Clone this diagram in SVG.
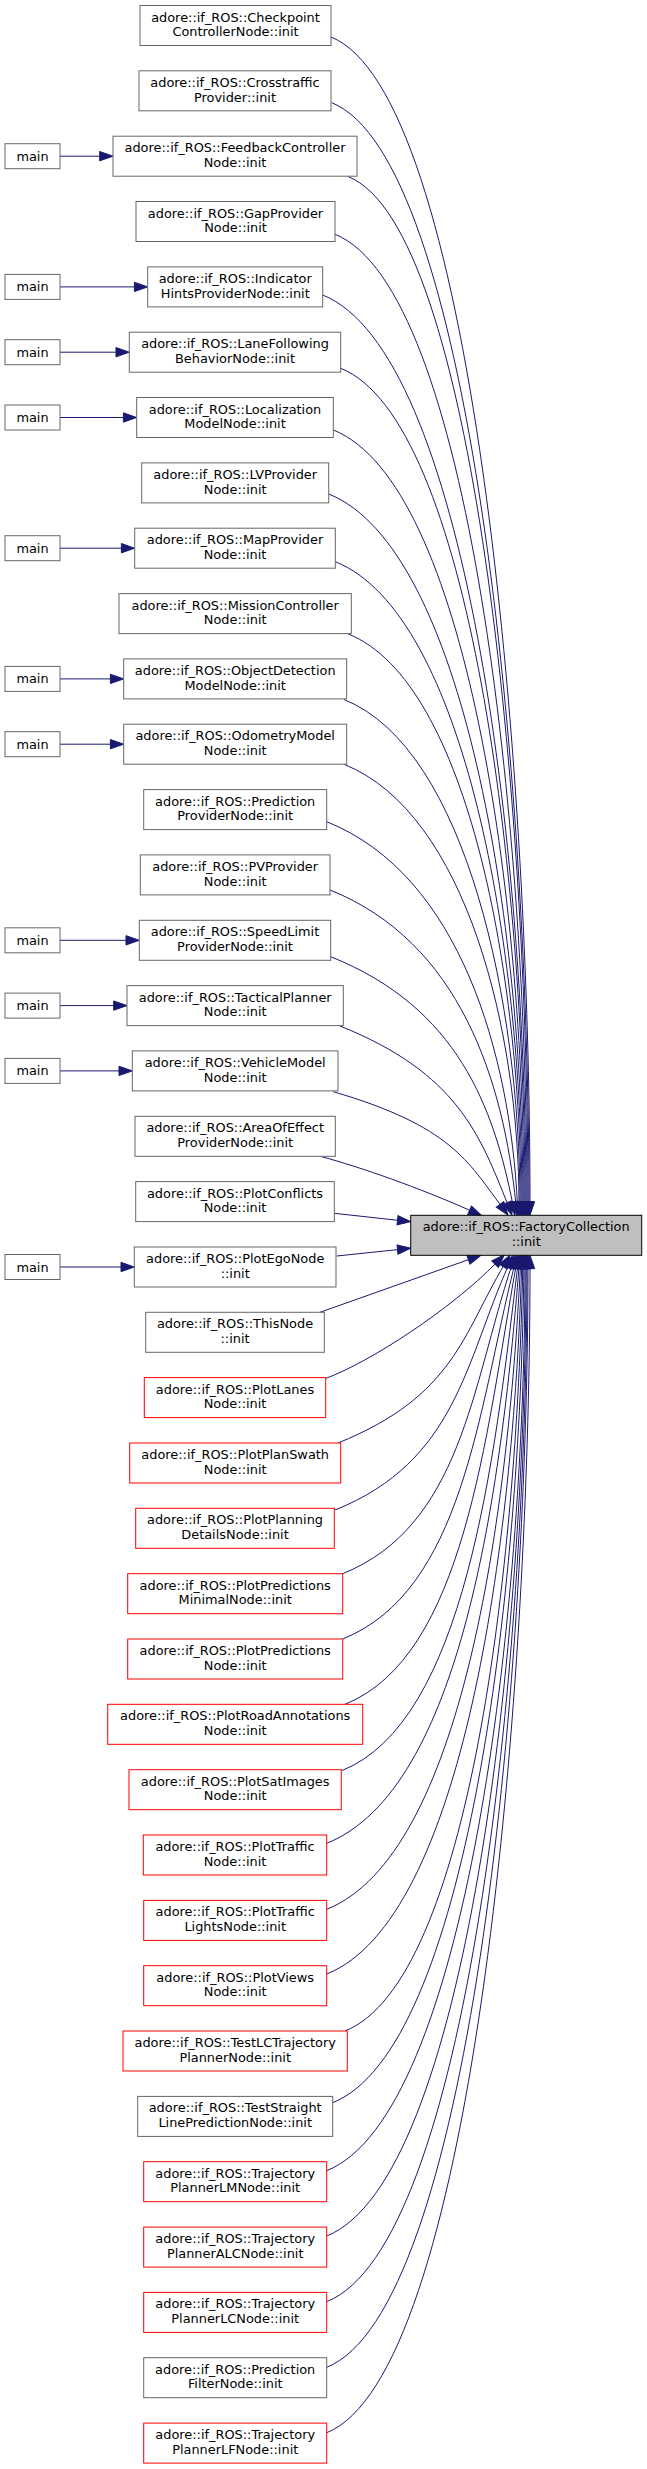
<svg xmlns="http://www.w3.org/2000/svg" width="647" height="2469" viewBox="0 0 647 2469">
<defs>
<style>
.n rect{fill:#ffffff;stroke:#666666;stroke-width:1}
.r rect{fill:#ffffff;stroke:#ff0000;stroke-width:1}
.t rect{fill:#bfbfbf;stroke:#000000;stroke-width:1}
text{font-family:"DejaVu Sans","Liberation Sans",sans-serif;font-size:12.9px;fill:#000000;text-anchor:middle}
.e path{fill:none;stroke:#191970;stroke-width:1;marker-end:url(#ah)}
</style>
<marker id="ah" markerUnits="userSpaceOnUse" markerWidth="14" markerHeight="10" refX="2.3" refY="0" orient="auto" viewBox="0 -5 14 10" overflow="visible">
<path d="M0,-4.67 L13.3,0 L0,4.67 Z" fill="#191970" stroke="#191970" stroke-width="1"/>
</marker>
</defs>
<rect width="647" height="2469" fill="#ffffff"/>
<g id="edges" class="e">
<path d="M331,37 C470.3,92.7 530,749 530,1204"/>
<path d="M331.7,102.7 C469.8,157.9 529,774.5 529,1204"/>
<path d="M348.3,176.7 C474.1,227 528,803.4 528,1204"/>
<path d="M335,234.3 C469.4,288.1 527,825.8 527,1204"/>
<path d="M322.7,295 C465,351.9 526,849.5 526,1204"/>
<path d="M340.7,368.3 C469.7,419.9 525,878.1 525,1204"/>
<path d="M333.3,430 C466.8,483.4 524,902.1 524,1204"/>
<path d="M328.7,494 C464.7,548.4 523,927.1 523,1204"/>
<path d="M335.3,561.7 C466,614 522,953.5 522,1204"/>
<path d="M348.3,634 C469.2,682.4 521,981.7 521,1204"/>
<path d="M344,699.5 C467.2,748.8 520,1007.2 520,1204"/>
<path d="M344,764.3 C466.5,813.3 519,1032.5 519,1204"/>
<path d="M326.7,821.7 C460.2,875.1 510,1054.9 517.45,1204"/>
<path d="M330,890 C460.1,942 503.6,1081.5 515.9,1204"/>
<path d="M330.7,956.7 C458.2,1007.7 493.5,1107.7 512.8,1204.2"/>
<path d="M340,1026 C457.5,1073 480,1135.1 507.9,1204.8"/>
<path d="M333.3,1091.7 C451,1126.1 467.9,1161.5 501.4,1206.2"/>
<path d="M321.7,1156.7 C360,1167 420,1188 471.7,1211.2"/>
<path d="M334.3,1213.3 L399.8,1220.5"/>
<path d="M336.7,1256 L399.8,1249.4"/>
<path d="M320,1312.3 L470.6,1258.9"/>
<path d="M326,1378.3 C370,1362 450,1310 496.7,1262.5"/>
<path d="M338,1443 C454.4,1395.9 462.7,1334 504.3,1264.7"/>
<path d="M335,1510 C456.5,1461.4 465.6,1360.7 508.5,1265.3"/>
<path d="M342.7,1573.7 C460.9,1526 472,1385.7 511.6,1265.75"/>
<path d="M342.7,1639 C462.8,1590.7 478,1411.4 514.3,1266"/>
<path d="M345,1704.3 C464.7,1656.1 485.3,1436.9 516.05,1266.1"/>
<path d="M341.7,1770.7 C464.9,1721.4 494.1,1463 517.7,1266.2"/>
<path d="M326.7,1843.3 C461.4,1789.4 501.1,1491.3 519.1,1266.3"/>
<path d="M326.7,1909.3 C462.3,1855.1 507.9,1517.1 520.45,1266.3"/>
<path d="M326.7,1974 C463.2,1919.4 513.4,1542.3 521.7,1266.3"/>
<path d="M345,2031 C469.5,1981.2 516.8,1564.5 522.8,1266.3"/>
<path d="M332.7,2102.7 C466.5,2049.2 520.6,1592.5 523.9,1266.3"/>
<path d="M326.7,2170.7 C465.5,2115.2 525,1619 525,1266.3"/>
<path d="M326.7,2236 C466.2,2180.2 526,1644.5 526,1266.3"/>
<path d="M326.7,2301.7 C466.9,2245.6 527,1670.1 527,1266.3"/>
<path d="M326.7,2367.3 C467.6,2310.9 528,1695.7 528,1266.3"/>
<path d="M326.7,2432.7 C469,2375.8 530,1721.2 530,1266.3"/>
<path d="M60,156.2 L102,156.2"/>
<path d="M60,286.9 L136.7,286.9"/>
<path d="M60,352.2 L118.3,352.2"/>
<path d="M60,417.5 L125.7,417.5"/>
<path d="M60,548.2 L123.7,548.2"/>
<path d="M60,678.9 L112.7,678.9"/>
<path d="M60,744.2 L112.7,744.2"/>
<path d="M60,940.3 L128.3,940.3"/>
<path d="M60,1005.6 L116,1005.6"/>
<path d="M60,1070.9 L121.3,1070.9"/>
<path d="M60,1267 L123.3,1267"/>
</g>
<g id="target" class="t"><rect x="410.7" y="1215.3" width="231" height="40"/><text x="526.2" y="1231.3">adore::if_ROS::FactoryCollection</text><text x="526.2" y="1246">::init</text></g>
<g id="node1" class="n"><rect x="140" y="5.5" width="191" height="40"/><text x="235.5" y="21.5">adore::if_ROS::Checkpoint</text><text x="235.5" y="36.2">ControllerNode::init</text></g>
<g id="node2" class="n"><rect x="139" y="70.8" width="192" height="40"/><text x="235" y="86.8">adore::if_ROS::Crosstraffic</text><text x="235" y="101.5">Provider::init</text></g>
<g id="node3" class="n"><rect x="113" y="136.2" width="244" height="40"/><text x="235" y="152.2">adore::if_ROS::FeedbackController</text><text x="235" y="166.9">Node::init</text></g>
<g id="node4" class="n"><rect x="136" y="201.5" width="199" height="40"/><text x="235.5" y="217.5">adore::if_ROS::GapProvider</text><text x="235.5" y="232.2">Node::init</text></g>
<g id="node5" class="n"><rect x="147.7" y="266.9" width="175" height="40"/><text x="235.2" y="282.9">adore::if_ROS::Indicator</text><text x="235.2" y="297.6">HintsProviderNode::init</text></g>
<g id="node6" class="n"><rect x="129.3" y="332.2" width="211.4" height="40"/><text x="235" y="348.2">adore::if_ROS::LaneFollowing</text><text x="235" y="362.9">BehaviorNode::init</text></g>
<g id="node7" class="n"><rect x="136.7" y="397.5" width="196.6" height="40"/><text x="235" y="413.5">adore::if_ROS::Localization</text><text x="235" y="428.2">ModelNode::init</text></g>
<g id="node8" class="n"><rect x="141.7" y="462.9" width="187" height="40"/><text x="235.2" y="478.9">adore::if_ROS::LVProvider</text><text x="235.2" y="493.6">Node::init</text></g>
<g id="node9" class="n"><rect x="134.7" y="528.2" width="200.6" height="40"/><text x="235" y="544.2">adore::if_ROS::MapProvider</text><text x="235" y="558.9">Node::init</text></g>
<g id="node10" class="n"><rect x="119" y="593.6" width="232.3" height="40"/><text x="235.2" y="609.6">adore::if_ROS::MissionController</text><text x="235.2" y="624.3">Node::init</text></g>
<g id="node11" class="n"><rect x="123.7" y="658.9" width="223" height="40"/><text x="235.2" y="674.9">adore::if_ROS::ObjectDetection</text><text x="235.2" y="689.6">ModelNode::init</text></g>
<g id="node12" class="n"><rect x="123.7" y="724.2" width="223" height="40"/><text x="235.2" y="740.2">adore::if_ROS::OdometryModel</text><text x="235.2" y="754.9">Node::init</text></g>
<g id="node13" class="n"><rect x="143.7" y="789.6" width="183" height="40"/><text x="235.2" y="805.6">adore::if_ROS::Prediction</text><text x="235.2" y="820.3">ProviderNode::init</text></g>
<g id="node14" class="n"><rect x="140.3" y="854.9" width="189.7" height="40"/><text x="235.2" y="870.9">adore::if_ROS::PVProvider</text><text x="235.2" y="885.6">Node::init</text></g>
<g id="node15" class="n"><rect x="139.3" y="920.3" width="191.4" height="40"/><text x="235" y="936.3">adore::if_ROS::SpeedLimit</text><text x="235" y="951">ProviderNode::init</text></g>
<g id="node16" class="n"><rect x="127" y="985.6" width="216.3" height="40"/><text x="235.2" y="1001.6">adore::if_ROS::TacticalPlanner</text><text x="235.2" y="1016.3">Node::init</text></g>
<g id="node17" class="n"><rect x="132.3" y="1050.9" width="205.7" height="40"/><text x="235.2" y="1066.9">adore::if_ROS::VehicleModel</text><text x="235.2" y="1081.6">Node::init</text></g>
<g id="node18" class="n"><rect x="135" y="1116.3" width="200.3" height="40"/><text x="235.2" y="1132.3">adore::if_ROS::AreaOfEffect</text><text x="235.2" y="1147">ProviderNode::init</text></g>
<g id="node19" class="n"><rect x="135.7" y="1181.6" width="198.6" height="40"/><text x="235" y="1197.6">adore::if_ROS::PlotConflicts</text><text x="235" y="1212.3">Node::init</text></g>
<g id="node20" class="n"><rect x="134.3" y="1247" width="201.7" height="40"/><text x="235.2" y="1263">adore::if_ROS::PlotEgoNode</text><text x="235.2" y="1277.7">::init</text></g>
<g id="node21" class="n"><rect x="145.7" y="1312.3" width="178.6" height="40"/><text x="235" y="1328.3">adore::if_ROS::ThisNode</text><text x="235" y="1343">::init</text></g>
<g id="node22" class="r"><rect x="144.3" y="1377.6" width="181.4" height="40"/><text x="235" y="1393.6">adore::if_ROS::PlotLanes</text><text x="235" y="1408.3">Node::init</text></g>
<g id="node23" class="r"><rect x="129.7" y="1443" width="211" height="40"/><text x="235.2" y="1459">adore::if_ROS::PlotPlanSwath</text><text x="235.2" y="1473.7">Node::init</text></g>
<g id="node24" class="r"><rect x="135.7" y="1508.3" width="198.6" height="40"/><text x="235" y="1524.3">adore::if_ROS::PlotPlanning</text><text x="235" y="1539">DetailsNode::init</text></g>
<g id="node25" class="r"><rect x="127.7" y="1573.7" width="215" height="40"/><text x="235.2" y="1589.7">adore::if_ROS::PlotPredictions</text><text x="235.2" y="1604.4">MinimalNode::init</text></g>
<g id="node26" class="r"><rect x="127.7" y="1639" width="215" height="40"/><text x="235.2" y="1655">adore::if_ROS::PlotPredictions</text><text x="235.2" y="1669.7">Node::init</text></g>
<g id="node27" class="r"><rect x="107.7" y="1704.3" width="255" height="40"/><text x="235.2" y="1720.3">adore::if_ROS::PlotRoadAnnotations</text><text x="235.2" y="1735">Node::init</text></g>
<g id="node28" class="r"><rect x="129" y="1769.7" width="212.3" height="40"/><text x="235.2" y="1785.7">adore::if_ROS::PlotSatImages</text><text x="235.2" y="1800.4">Node::init</text></g>
<g id="node29" class="r"><rect x="143.3" y="1835" width="183.4" height="40"/><text x="235" y="1851">adore::if_ROS::PlotTraffic</text><text x="235" y="1865.7">Node::init</text></g>
<g id="node30" class="r"><rect x="143.7" y="1900.4" width="183" height="40"/><text x="235.2" y="1916.4">adore::if_ROS::PlotTraffic</text><text x="235.2" y="1931.1">LightsNode::init</text></g>
<g id="node31" class="r"><rect x="143.7" y="1965.7" width="183" height="40"/><text x="235.2" y="1981.7">adore::if_ROS::PlotViews</text><text x="235.2" y="1996.4">Node::init</text></g>
<g id="node32" class="r"><rect x="123" y="2031" width="224.3" height="40"/><text x="235.2" y="2047">adore::if_ROS::TestLCTrajectory</text><text x="235.2" y="2061.7">PlannerNode::init</text></g>
<g id="node33" class="n"><rect x="137.7" y="2096.4" width="195" height="40"/><text x="235.2" y="2112.4">adore::if_ROS::TestStraight</text><text x="235.2" y="2127.1">LinePredictionNode::init</text></g>
<g id="node34" class="r"><rect x="143.7" y="2161.7" width="183" height="40"/><text x="235.2" y="2177.7">adore::if_ROS::Trajectory</text><text x="235.2" y="2192.4">PlannerLMNode::init</text></g>
<g id="node35" class="r"><rect x="143.7" y="2227.1" width="183" height="40"/><text x="235.2" y="2243.1">adore::if_ROS::Trajectory</text><text x="235.2" y="2257.8">PlannerALCNode::init</text></g>
<g id="node36" class="r"><rect x="143.7" y="2292.4" width="183" height="40"/><text x="235.2" y="2308.4">adore::if_ROS::Trajectory</text><text x="235.2" y="2323.1">PlannerLCNode::init</text></g>
<g id="node37" class="n"><rect x="143.7" y="2357.7" width="183" height="40"/><text x="235.2" y="2373.7">adore::if_ROS::Prediction</text><text x="235.2" y="2388.4">FilterNode::init</text></g>
<g id="node38" class="r"><rect x="143.7" y="2423.1" width="183" height="40"/><text x="235.2" y="2439.1">adore::if_ROS::Trajectory</text><text x="235.2" y="2453.8">PlannerLFNode::init</text></g>
<g id="main3" class="n"><rect x="5" y="143.7" width="55" height="25"/><text x="32.5" y="160.7">main</text></g>
<g id="main5" class="n"><rect x="5" y="274.4" width="55" height="25"/><text x="32.5" y="291.4">main</text></g>
<g id="main6" class="n"><rect x="5" y="339.7" width="55" height="25"/><text x="32.5" y="356.7">main</text></g>
<g id="main7" class="n"><rect x="5" y="405" width="55" height="25"/><text x="32.5" y="422">main</text></g>
<g id="main9" class="n"><rect x="5" y="535.7" width="55" height="25"/><text x="32.5" y="552.7">main</text></g>
<g id="main11" class="n"><rect x="5" y="666.4" width="55" height="25"/><text x="32.5" y="683.4">main</text></g>
<g id="main12" class="n"><rect x="5" y="731.7" width="55" height="25"/><text x="32.5" y="748.7">main</text></g>
<g id="main15" class="n"><rect x="5" y="927.8" width="55" height="25"/><text x="32.5" y="944.8">main</text></g>
<g id="main16" class="n"><rect x="5" y="993.1" width="55" height="25"/><text x="32.5" y="1010.1">main</text></g>
<g id="main17" class="n"><rect x="5" y="1058.4" width="55" height="25"/><text x="32.5" y="1075.4">main</text></g>
<g id="main20" class="n"><rect x="5" y="1254.5" width="55" height="25"/><text x="32.5" y="1271.5">main</text></g>
</svg>
